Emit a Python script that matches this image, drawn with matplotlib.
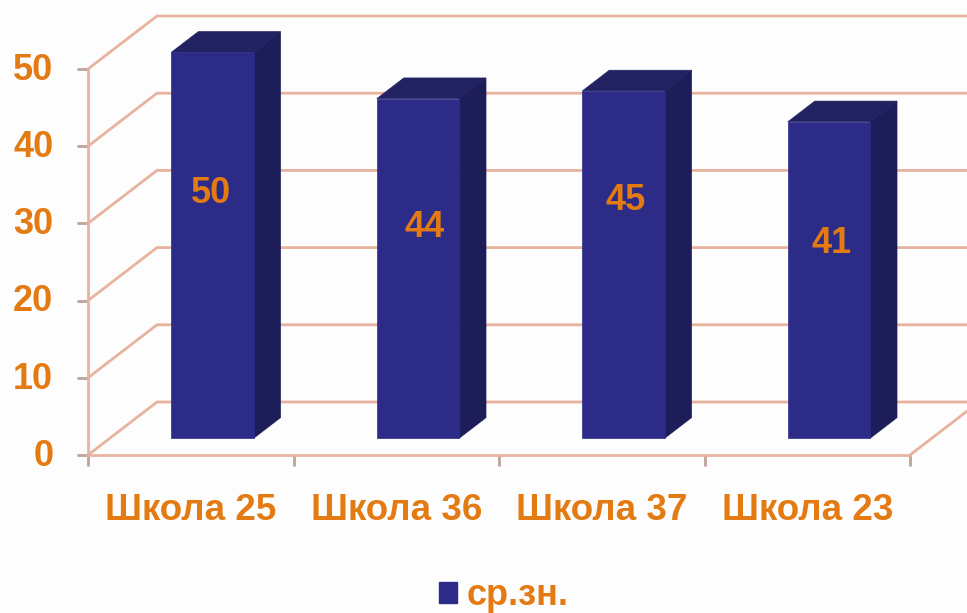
import matplotlib
matplotlib.use('Agg')
import matplotlib.pyplot as plt
from matplotlib.patches import Polygon, Patch
from matplotlib.transforms import ScaledTranslation

schools = ['Школа 25', 'Школа 36', 'Школа 37', 'Школа 23']
values = [50, 44, 45, 41]
y_ticks = [0, 10, 20, 30, 40, 50]

# where the number sits inside each bar, as a share of its height
label_share = [0.635, 0.62, 0.684, 0.617]
label_shift = [-1, 7, 2, 3]

ORANGE = '#E37A12'
GRID = '#E8B39E'
TICK = '#BFA398'
FRONT = '#2C2C88'
SIDE = '#1D1D59'
TOP = '#222263'

W, H = 967, 613
plt.rcParams['font.family'] = ['Liberation Sans', 'DejaVu Sans']

# depth of the 3d box in data units
DEPTH_X = 69 / 205.5
DEPTH_Y = 53 / 7.72
BAR_WIDTH = 0.4
BAR_D0 = 0.315
BAR_D1 = 0.705


def depth(x, y, d):
    return (x + d * DEPTH_X, y + d * DEPTH_Y)


def draw_bar(ax, i, val):
    left = i + 0.5 - BAR_WIDTH / 2
    right = i + 0.5 + BAR_WIDTH / 2
    front = [depth(left, 0, BAR_D0), depth(right, 0, BAR_D0),
             depth(right, val, BAR_D0), depth(left, val, BAR_D0)]
    side = [depth(right, 0, BAR_D0), depth(right, 0, BAR_D1),
            depth(right, val, BAR_D1), depth(right, val, BAR_D0)]
    top = [depth(left, val, BAR_D0), depth(right, val, BAR_D0),
           depth(right, val, BAR_D1), depth(left, val, BAR_D1)]
    ax.add_patch(Polygon(side, closed=True, fc=SIDE, ec=SIDE, lw=0.5, zorder=3, clip_on=False))
    ax.add_patch(Polygon(top, closed=True, fc=TOP, ec=TOP, lw=0.5, zorder=3, clip_on=False))
    ax.add_patch(Polygon(front, closed=True, fc=FRONT, ec=FRONT, lw=0.5, zorder=4, clip_on=False))


fig = plt.figure(figsize=(W / 100, H / 100), dpi=100, facecolor='#FDFDFD')
ax = fig.add_axes([88 / W, 1 - 455 / H, (910 - 88) / W, (455 - 69) / H])
ax.patch.set_visible(False)
ax.set_xlim(0, len(schools))
ax.set_ylim(0, 50)

# side wall, back wall and floor lines
for v in y_ticks:
    bx, by = depth(0, v, 1)
    ex, ey = depth(len(schools), v, 1)
    ax.plot([0, bx, ex], [v, by, ey], color=GRID, lw=2, clip_on=False, zorder=1)
fx, fy = depth(len(schools), 0, 1)
ax.plot([len(schools), fx], [0, fy], color=GRID, lw=2, clip_on=False, zorder=1)

for i, val in enumerate(values):
    draw_bar(ax, i, val)
    lx, ly = depth(i + 0.5, val * label_share[i], BAR_D0)
    ax.annotate(str(val), (lx, ly), xytext=(label_shift[i] * 0.72, 0), textcoords='offset points',
                ha='center', va='center', color=ORANGE, fontsize=26, fontweight='bold', zorder=5)

for name in ['top', 'right']:
    ax.spines[name].set_visible(False)
for name in ['left', 'bottom']:
    ax.spines[name].set_color(GRID)
    ax.spines[name].set_linewidth(2)

ax.set_yticks(y_ticks)
ax.set_xticks(range(len(schools) + 1))
ax.set_xticklabels([])
ax.set_xticks([i + 0.5 for i in range(len(schools))], labels=schools, minor=True)
ax.tick_params(axis='y', length=8, width=2, color=TICK, pad=17, labelsize=26, labelcolor=ORANGE)
ax.tick_params(axis='x', which='major', length=8, width=2, color=TICK)
ax.tick_params(axis='x', which='minor', length=0, pad=27, labelsize=26.5, labelcolor=ORANGE)
for lab in ax.get_yticklabels() + ax.get_xticklabels(minor=True):
    lab.set_fontweight('bold')
# the value labels sit a little above their ticks
for lab in ax.get_yticklabels():
    lab.set_transform(lab.get_transform() + ScaledTranslation(0, 2 / 72, fig.dpi_scale_trans))

leg = fig.legend(handles=[Patch(fc=FRONT, ec=FRONT, label='ср.зн.')], loc='lower center',
                 bbox_to_anchor=(504 / W, -4 / H), frameon=False, handlelength=0.5,
                 handleheight=0.5, handletextpad=0.28, borderpad=0, borderaxespad=0.1,
                 prop={'size': 26, 'weight': 'bold'})
leg.get_texts()[0].set_color(ORANGE)

fig.savefig('out.png', dpi=100, facecolor=fig.get_facecolor())
